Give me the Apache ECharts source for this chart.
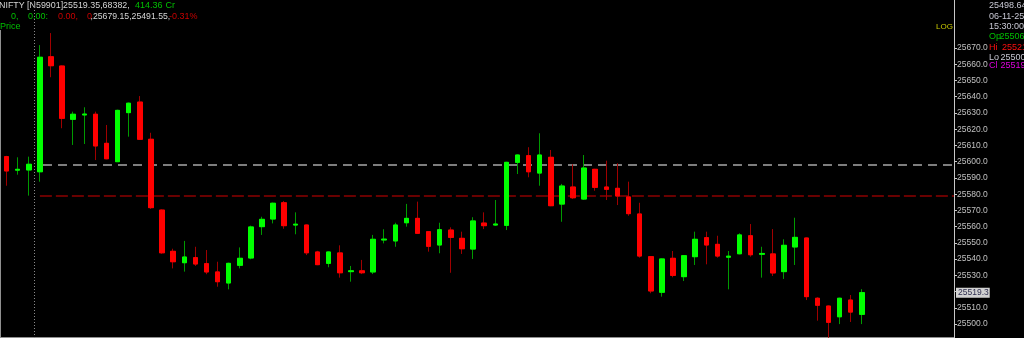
<!DOCTYPE html>
<html><head><meta charset="utf-8">
<script src="https://cdn.jsdelivr.net/npm/echarts@6/dist/echarts.min.js"></script>
<style>html,body{margin:0;padding:0;background:#000;overflow:hidden}#c{width:1024px;height:338px}</style>
</head><body><div id="c"></div>
<script>
const opens = [25603.1,25594.8,25594.9,25593.8,25664.6,25658.9,25626.1,25628.8,25629.2,25611.3,
25600.0,25630.2,25636.7,25613.8,25570.2,25544.8,25537.8,25540.9,25537.2,25532.1,
25525.3,25536.2,25540.7,25560.0,25564.7,25574.7,25561.0,25561.0,25544.4,25537.4,
25543.8,25532.3,25532.8,25532.1,25551.8,25551.2,25562.4,25565.1,25556.9,25548.7,
25557.9,25552.8,25546.2,25562.2,25561.0,25560.8,25599.6,25603.7,25593.0,25602.7,
25573.9,25584.4,25577.0,25595.3,25584.4,25583.6,25578.3,25567.8,25541.5,25519.6,
25540.5,25529.2,25541.5,25553.2,25549.1,25541.2,25543.3,25554.4,25543.0,25543.2,
25532.3,25547.5,25553.0,25515.9,25511.1,25504.5,25514.8,25506.0];
const closes = [25594.3,25595.3,25598.4,25664.3,25659.1,25626.7,25629.2,25629.3,25609.7,25601.8,
25631.6,25636.0,25613.8,25571.7,25543.9,25538.4,25541.3,25537.0,25532.1,25526.1,
25537.4,25540.5,25559.8,25564.5,25574.4,25560.6,25561.5,25543.9,25536.6,25544.4,
25531.6,25532.8,25531.6,25552.2,25552.3,25561.0,25565.1,25555.9,25547.9,25558.1,
25553.4,25546.4,25563.5,25560.6,25561.6,25599.6,25604.1,25593.8,25604.1,25572.9,
25585.0,25577.8,25596.1,25584.2,25583.0,25578.9,25568.0,25541.9,25520.4,25540.1,
25530.0,25542.1,25552.2,25548.7,25541.9,25541.8,25554.9,25542.7,25543.5,25531.5,
25548.5,25553.4,25516.9,25511.6,25501.1,25515.9,25507.4,25519.35];
const lows = [25585.2,25592.0,25579.1,25587.7,25652.0,25620.6,25610.3,25610.9,25601.0,25601.5,
25599.8,25615.4,25613.5,25570.9,25543.3,25534.3,25532.3,25535.8,25530.7,25523.0,
25521.4,25534.3,25539.9,25554.9,25562.0,25558.7,25555.3,25542.5,25536.3,25535.0,
25528.6,25526.1,25530.8,25530.8,25549.7,25547.6,25560.0,25555.6,25544.6,25543.6,
25531.6,25543.2,25540.1,25558.5,25560.5,25557.9,25592.4,25590.4,25585.2,25572.6,
25563.0,25577.0,25576.4,25582.1,25576.4,25573.3,25566.7,25540.9,25519.0,25516.9,
25528.8,25526.5,25536.4,25536.8,25540.9,25521.4,25543.0,25541.5,25528.6,25529.6,
25527.8,25536.4,25514.8,25502.1,25491.6,25500.0,25501.3,25500.0];
const highs = [25603.6,25602.7,25603.1,25671.8,25679.2,25659.2,25630.8,25633.5,25630.8,25622.6,
25632.0,25636.4,25640.4,25617.8,25570.6,25546.4,25551.2,25547.6,25545.6,25538.4,
25537.8,25547.2,25560.6,25566.1,25574.8,25575.8,25568.8,25561.3,25545.1,25544.7,
25548.5,25535.8,25539.5,25554.9,25558.4,25562.4,25574.0,25575.4,25557.2,25562.4,
25559.6,25556.9,25565.8,25568.8,25576.4,25599.9,25604.4,25608.9,25617.5,25607.2,
25586.3,25598.4,25604.1,25595.6,25600.6,25599.0,25587.7,25574.7,25541.8,25540.4,
25545.0,25542.4,25556.9,25556.9,25554.4,25545.0,25555.9,25561.6,25547.6,25558.5,
25552.2,25565.5,25553.3,25516.5,25511.4,25516.2,25517.9,25521.5];
const yTicks = [25500,25510,25520,25530,25540,25550,25560,25570,25580,25590,
25600,25610,25620,25630,25640,25650,25660,25670];
const levelGray = 25598.3;
const levelRed = 25578.9;
const sessionStart = 2.5;
const lastPrice = 25519.35;
const lastPriceLabel = '25519.3';

const headerLine1 = ['NIFTY [N59901]25519.35,68382,', '414.36', 'Cr'];
const headerLine2 = ['0,', '0.00:', '0.00,', '0', ',25679.15,25491.55,', '-0.31%'];
const infoLines = ['25498.64', '06-11-25', '15:30:00'];
const infoOHLC = [['Op', '25506.'], ['Hi', '25521'], ['Lo', '25500.'], ['Cl', '25519']];

const wickData = opens.map((o, i) => [i, o, closes[i], lows[i], highs[i]]);
const bodyData = opens.map((o, i) => [i, o, closes[i], Math.min(o, closes[i]), Math.max(o, closes[i])]);

function txt(text, x, y, fill, size) {
  return { type: 'text', x: x, y: y, silent: true, style: { text: text, fill: fill, font: (size || 9) + 'px "Liberation Sans", Arial, sans-serif', verticalAlign: 'middle', align: 'left' } };
}
const GREEN = '#00c000', RED = '#c80000', GREY = '#d4d4d4', INFO = '#c8c8d4';

const chart = echarts.init(document.getElementById('c'), null, { renderer: 'canvas' });
chart.setOption({
  backgroundColor: '#000000',
  animation: false,
  grid: { left: 1, right: 70, top: 0, bottom: 0 },
  xAxis: { type: 'value', min: -0.5, max: 85.3, show: false, splitLine: { show: false } },
  yAxis: {
    type: 'value', position: 'right', min: 25491.43, max: 25699.56, scale: true,
    axisLine: { show: true, onZero: false, lineStyle: { color: '#c8c8c8', width: 1 } },
    axisTick: { show: true, length: 3, inside: false, customValues: yTicks, lineStyle: { color: '#c8c8c8' } },
    axisLabel: { customValues: yTicks, formatter: v => v.toFixed(1), color: '#c0c0c0', fontSize: 8.5, fontFamily: 'Liberation Sans', margin: 3 },
    splitLine: { show: false }
  },
  series: [
    {
      type: 'candlestick', name: 'wick', z: 2,
      dimensions: ['idx', 'open', 'close', 'low', 'high'],
      encode: { x: 0, y: [1, 2, 3, 4] },
      data: wickData, barWidth: 5,
      itemStyle: { color: '#00ff00', color0: '#ff0000', borderColor: '#009a00', borderColor0: '#a00000', borderWidth: 1 },
      emphasis: { disabled: true },
      markLine: {
        z: 1, silent: true, symbol: ['none', 'none'], animation: false,
        label: { show: false },
        data: [
          [{ coord: [3.28, levelGray], lineStyle: { color: '#a8a8a8', type: [9, 6], width: 1.5 } }, { coord: [85.3, levelGray] }],
          [{ coord: [3.0, levelRed], lineStyle: { color: '#8c0000', type: [12, 4], width: 1.5 } }, { coord: [85.3, levelRed] }],
          { xAxis: sessionStart, lineStyle: { color: '#8a8a8a', type: [1, 2], width: 1 } }
        ]
      }
    },
    {
      type: 'candlestick', name: 'body', z: 3,
      dimensions: ['idx', 'open', 'close', 'low', 'high'],
      encode: { x: 0, y: [1, 2, 3, 4] },
      data: bodyData, barWidth: 5,
      itemStyle: { color: '#00ff00', color0: '#ff0000', borderColor: '#00ff00', borderColor0: '#ff0000', borderWidth: 1 },
      emphasis: { disabled: true },
      markLine: {
        silent: true, symbol: ['none', 'none'], animation: false,
        lineStyle: { color: 'rgba(0,0,0,0)', width: 0 },
        label: { show: true, position: 'end', distance: 2, formatter: lastPriceLabel, color: '#303050',
          backgroundColor: '#d2d2d2', padding: [1, 1, 0, 2], fontSize: 8.5, fontFamily: 'Liberation Sans' },
        data: [{ yAxis: lastPrice }]
      }
    }
  ],
  graphic: [
    txt(headerLine1[0], -1, 6, GREY, 8.9),
    txt(headerLine1[1], 135, 6, GREEN),
    txt(headerLine1[2], 165.5, 6, GREEN),
    txt(headerLine2[0], 11, 16.7, GREEN),
    txt(headerLine2[1], 28, 16.7, GREEN),
    txt(headerLine2[2], 58, 16.7, RED),
    txt(headerLine2[3], 87, 16.7, RED),
    txt(headerLine2[4], 90.5, 16.7, GREY, 8.7),
    txt(headerLine2[5], 169, 16.7, RED),
    txt('Price', 0, 26.7, GREEN),
    txt('LOG', 936, 27, '#c8c800', 8),
    txt(infoLines[0], 989, 6, INFO),
    txt(infoLines[1], 989, 16.7, INFO),
    txt(infoLines[2], 989, 27, INFO),
    txt(infoOHLC[0][0], 989, 36.7, GREEN), txt(infoOHLC[0][1], 999.5, 36.7, GREEN),
    txt(infoOHLC[1][0], 989, 47.3, '#ff1010'), txt(infoOHLC[1][1], 1002, 47.3, '#ff1010'),
    txt(infoOHLC[2][0], 989, 57.7, INFO), txt(infoOHLC[2][1], 1000.5, 57.7, INFO),
    txt(infoOHLC[3][0], 989, 66, '#e000e0'), txt(infoOHLC[3][1], 1000.5, 66, '#e000e0'),
    { type: 'line', silent: true, shape: { x1: 0.5, y1: 30, x2: 0.5, y2: 338 }, style: { stroke: '#909090', lineWidth: 1 } },
    { type: 'line', silent: true, shape: { x1: 0, y1: 337.5, x2: 954, y2: 337.5 }, style: { stroke: '#909090', lineWidth: 1 } }
  ]
});
</script>
</body></html>
